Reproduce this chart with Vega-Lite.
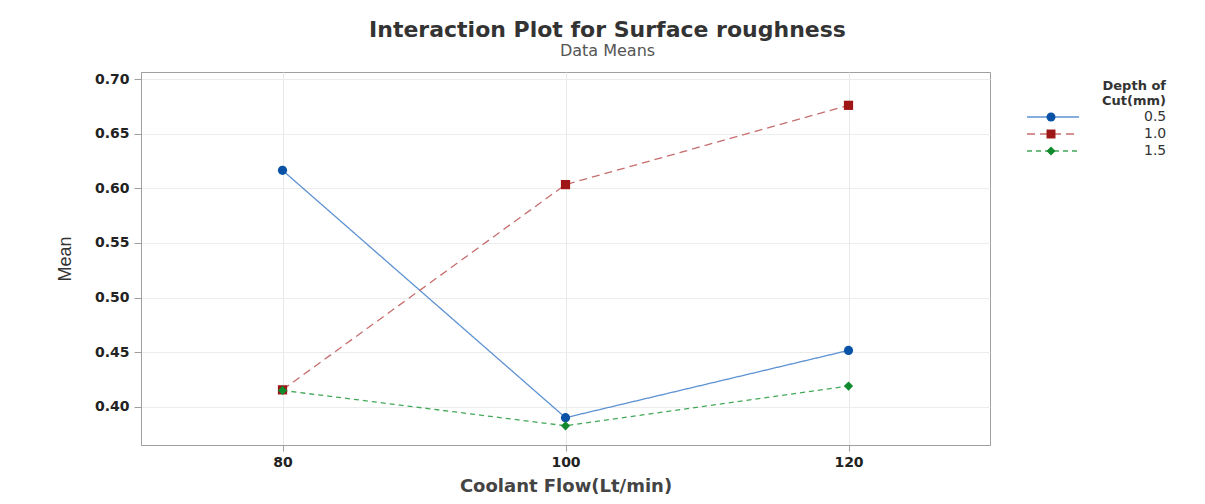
{
  "$schema": "https://vega.github.io/schema/vega-lite/v6.json",
  "autosize": "none",
  "width": 849,
  "height": 373,
  "padding": {"left": 141, "top": 72, "right": 215, "bottom": 59},
  "background": "white",
  "title": {
    "text": "Interaction Plot for Surface roughness",
    "subtitle": "Data Means",
    "anchor": "middle",
    "dx": 42,
    "offset": 12,
    "font": "DejaVu Sans",
    "fontSize": 22,
    "fontWeight": "bold",
    "color": "#333333",
    "subtitleFont": "DejaVu Sans",
    "subtitleFontSize": 16,
    "subtitleColor": "#555555",
    "subtitlePadding": 1
  },
  "data": {
    "values": [
      {"flow": 80, "depth": "0.5", "mean": 0.6165},
      {"flow": 100, "depth": "0.5", "mean": 0.390},
      {"flow": 120, "depth": "0.5", "mean": 0.4516},
      {"flow": 80, "depth": "1.0", "mean": 0.4155},
      {"flow": 100, "depth": "1.0", "mean": 0.6034},
      {"flow": 120, "depth": "1.0", "mean": 0.676},
      {"flow": 80, "depth": "1.5", "mean": 0.415},
      {"flow": 100, "depth": "1.5", "mean": 0.3826},
      {"flow": 120, "depth": "1.5", "mean": 0.419}
    ]
  },
  "encoding": {
    "x": {
      "field": "flow",
      "type": "quantitative",
      "scale": {"domain": [70, 130], "nice": false, "zero": false},
      "axis": {
        "values": [80, 100, 120],
        "title": "Coolant Flow(Lt/min)",
        "titleFont": "DejaVu Sans",
        "titleFontSize": 18,
        "titleFontWeight": "bold",
        "titleColor": "#444444",
        "titlePadding": 8,
        "labelFont": "DejaVu Sans",
        "labelFontSize": 14,
        "labelFontWeight": "bold",
        "labelColor": "#222222",
        "labelPadding": 4,
        "tickSize": 6,
        "tickColor": "#a0a0a0",
        "domainColor": "#a0a0a0",
        "grid": true,
        "gridColor": "#e8e8e8"
      }
    },
    "y": {
      "field": "mean",
      "type": "quantitative",
      "scale": {"domain": [0.365, 0.7065], "nice": false, "zero": false},
      "axis": {
        "values": [0.40, 0.45, 0.50, 0.55, 0.60, 0.65, 0.70],
        "format": ".2f",
        "title": "Mean",
        "titleFont": "Liberation Sans",
        "titleFontSize": 18,
        "titleFontWeight": "normal",
        "titleColor": "#333333",
        "titlePadding": 20,
        "labelFont": "DejaVu Sans",
        "labelFontSize": 14,
        "labelFontWeight": "bold",
        "labelColor": "#222222",
        "labelPadding": 5,
        "tickSize": 7,
        "tickColor": "#a0a0a0",
        "domainColor": "#a0a0a0",
        "grid": true,
        "gridColor": "#ececec"
      }
    }
  },
  "layer": [
    {
      "mark": {"type": "line", "strokeWidth": 1.3},
      "encoding": {
        "color": {
          "field": "depth",
          "type": "nominal",
          "scale": {"domain": ["0.5", "1.0", "1.5"], "range": ["#5d92d2", "#c76d6d", "#42a858"]},
          "legend": {
            "title": ["Depth of", "Cut(mm)"],
            "orient": "none",
            "legendX": 905,
            "legendY": 8,
            "padding": 0,
            "symbolType": "M-10,0H10",
            "symbolSize": 27.04,
            "symbolStrokeWidth": 1.3,
            "labelOffset": 84,
            "labelFont": "DejaVu Sans",
            "labelFontSize": 14,
            "labelColor": "#333333",
            "rowPadding": 3,
            "titleFont": "DejaVu Sans",
            "titleFontSize": 13,
            "titleFontWeight": "bold",
            "titleColor": "#333333",
            "titleAlign": "right",
            "titleAnchor": "end",
            "titleLineHeight": 15,
            "titlePadding": 2,
            "encode": {
              "symbols": {
                "update": {
                  "strokeDash": {"signal": "datum.value === '1.0' ? [8, 5] : datum.value === '1.5' ? [5, 4] : [1, 0]"}
                }
              }
            }
          }
        },
        "strokeDash": {
          "field": "depth",
          "type": "nominal",
          "scale": {"domain": ["0.5", "1.0", "1.5"], "range": [[1, 0], [8, 5], [5, 4]]},
          "legend": null
        }
      }
    },
    {
      "mark": {"type": "point", "filled": true, "size": 85, "opacity": 1},
      "encoding": {
        "color": {
          "field": "depth",
          "type": "nominal",
          "scale": {"domain": ["0.5", "1.0", "1.5"], "range": ["#0a52a6", "#9e1616", "#118a2e"]},
          "legend": {
            "title": null,
            "orient": "none",
            "legendX": 903,
            "legendY": 38,
            "padding": 0,
            "symbolSize": 80,
            "symbolStrokeWidth": 0,
            "symbolOpacity": 1,
            "labelExpr": "''",
            "labelFont": "DejaVu Sans",
            "labelFontSize": 14,
            "rowPadding": 3,
            "encode": {
              "symbols": {
                "update": {
                  "shape": {"signal": "datum.value === '1.0' ? 'square' : datum.value === '1.5' ? 'diamond' : 'circle'"}
                }
              }
            }
          }
        },
        "shape": {
          "field": "depth",
          "type": "nominal",
          "scale": {"domain": ["0.5", "1.0", "1.5"], "range": ["circle", "square", "diamond"]},
          "legend": null
        }
      }
    }
  ],
  "resolve": {"scale": {"color": "independent"}, "legend": {"color": "independent"}},
  "config": {
    "view": {"stroke": "#a0a0a0", "strokeWidth": 1}
  }
}
